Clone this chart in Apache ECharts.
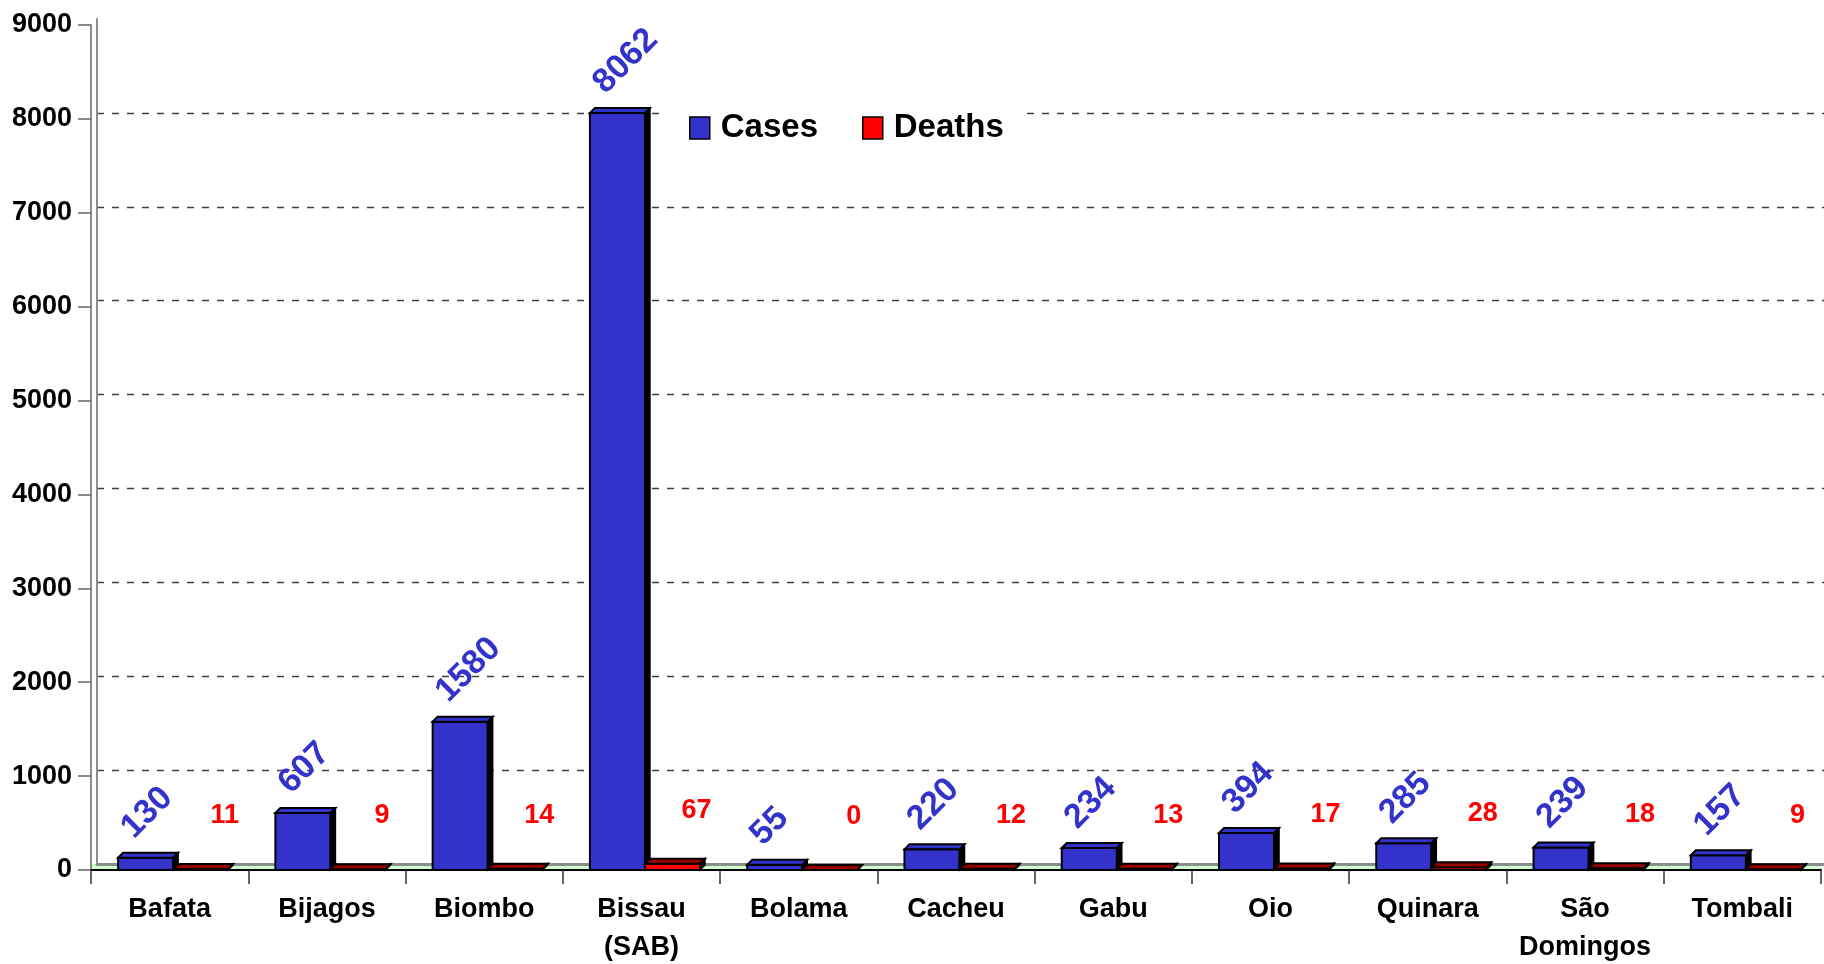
<!DOCTYPE html>
<html>
<head>
<meta charset="utf-8">
<script src="https://cdn.jsdelivr.net/npm/echarts@6/dist/echarts.min.js"></script>
<style>
html,body{margin:0;padding:0;background:#fff;}
#chart{width:1824px;height:964px;}
</style>
</head>
<body>
<div id="chart"></div>
<script>
const categories = ['Bafata', 'Bijagos', 'Biombo', 'Bissau\n(SAB)', 'Bolama', 'Cacheu', 'Gabu', 'Oio', 'Quinara', 'São\nDomingos', 'Tombali'];
const cases = [130, 607, 1580, 8062, 55, 220, 234, 394, 285, 239, 157];
const deaths = [11, 9, 14, 67, 0, 12, 13, 17, 28, 18, 9];
const seriesNames = ['Cases', 'Deaths'];
const yMin = 0, yMax = 9000, yStep = 1000;

const FONT = "'Liberation Sans', Arial, sans-serif";
const CASES_COLOR = '#3333CC';
const DEATHS_COLOR = '#FF0000';
const DEATHS_TOP = '#990000';

const chart = echarts.init(document.getElementById('chart'), null, {renderer: 'canvas'});

const DEPTH = 5;
const BAR_FRAC = 0.35;

function makeRender(k, fill, topFill, labelFn) {
  return function (params, api) {
    const ci = api.value(0);
    const v = api.value(1);
    const base = api.coord([ci, 0]);
    const top = api.coord([ci, v]);
    const band = api.size([1, 0])[0];
    const w = band * BAR_FRAC;
    const L = base[0] - w + 3.5 + k * w;
    const R = L + w;
    const yT = top[1];
    const yB = base[1];
    const d = DEPTH;
    const children = [];
    children.push({
      type: 'rect',
      shape: {x: L, y: yT, width: w, height: Math.max(yB - yT, 0.01)},
      style: {fill: fill, stroke: '#000', lineWidth: 2}
    });
    children.push({
      type: 'polygon',
      shape: {points: [[R, yB], [R + d, yB - d], [R + d, yT - d], [R, yT]]},
      style: {fill: '#000', stroke: '#000', lineWidth: 1.5}
    });
    children.push({
      type: 'polygon',
      shape: {points: [[L, yT], [L + d, yT - d], [R + d, yT - d], [R, yT]]},
      style: {fill: topFill, stroke: '#000', lineWidth: 2}
    });
    children.push(labelFn(L, R, yT, v));
    return {type: 'group', children: children};
  };
}

const casesLabel = (L, R, yT, v) => ({
  type: 'text',
  x: L + 9, y: yT - 25,
  rotation: Math.PI / 4,
  style: {text: String(v), fill: CASES_COLOR, fontFamily: FONT, fontSize: 34, fontWeight: 'bold', align: 'left', verticalAlign: 'middle'}
});
const deathsLabel = (L, R, yT, v) => ({
  type: 'text',
  x: (L + R) / 2 + 24, y: yT - 40,
  style: {text: String(v), fill: DEATHS_COLOR, fontFamily: FONT, fontSize: 27, fontWeight: 'bold', align: 'center', verticalAlign: 'bottom'}
});

const casesData = categories.map((c, i) => [i, cases[i]]);
const deathsData = categories.map((c, i) => [i, deaths[i]]);

chart.setOption({
  backgroundColor: '#fff',
  animation: false,
  textStyle: {fontFamily: FONT},
  legend: {
    data: seriesNames,
    left: 666,
    top: 102,
    orient: 'horizontal',
    backgroundColor: '#fff',
    padding: [8, 18, 8, 23],
    itemWidth: 20,
    itemHeight: 22,
    itemGap: 44,
    icon: 'rect',
    itemStyle: {borderColor: '#000', borderWidth: 1.5},
    textStyle: {fontFamily: FONT, fontSize: 33, fontWeight: 'bold', color: '#000', lineHeight: 36, padding: [0, 0, 0, 6]}
  },
  grid: [
    {left: 91, right: 3, top: 25, bottom: 94, outerBoundsMode: 'none', containLabel: false},
    {left: 97, right: 0, top: 19, bottom: 100, outerBoundsMode: 'none', containLabel: false},
    {left: 91, right: 3, top: 864, bottom: 95, outerBoundsMode: 'none', show: true, backgroundColor: '#CCFFCC', borderWidth: 0, containLabel: false}
  ],
  xAxis: [
    {
      type: 'category', gridIndex: 0, data: categories, z: 1,
      axisLine: {show: true, lineStyle: {color: '#000', width: 2}},
      axisTick: {show: true, length: 14, lineStyle: {color: '#333', width: 1.5}},
      axisLabel: {margin: 21, fontFamily: FONT, fontSize: 27, fontWeight: 'bold', color: '#000', lineHeight: 38, interval: 0},
      splitLine: {show: false}
    },
    {
      type: 'category', gridIndex: 1, position: 'top', data: categories, z: 1,
      axisLine: {show: true, lineStyle: {color: '#8c8c8c', width: 3}},
      axisTick: {show: false}, axisLabel: {show: false}, splitLine: {show: false}
    },
    {
      type: 'category', gridIndex: 1, position: 'bottom', data: categories, z: 0,
      axisLine: {show: true, lineStyle: {color: '#8c8c8c', width: 2}},
      axisTick: {show: false}, axisLabel: {show: false}, splitLine: {show: false}
    },
    {type: 'category', gridIndex: 2, data: categories, show: false}
  ],
  yAxis: [
    {
      type: 'value', gridIndex: 0, min: yMin, max: yMax, interval: yStep, z: 1,
      axisLine: {show: true, lineStyle: {color: '#666', width: 1.5}},
      axisTick: {show: true, length: 13, lineStyle: {color: '#666', width: 1.5}},
      axisLabel: {margin: 19, fontFamily: FONT, fontSize: 27, fontWeight: 'bold', color: '#000', formatter: (v) => String(v)},
      splitLine: {show: false}
    },
    {
      type: 'value', gridIndex: 1, min: yMin, max: yMax, interval: yStep, z: 0,
      axisLine: {show: true, lineStyle: {color: '#8c8c8c', width: 2}},
      axisTick: {show: false}, axisLabel: {show: false},
      splitLine: {show: true, showMinLine: false, showMaxLine: false, lineStyle: {color: '#404040', width: 1.3, type: [7, 8]}}
    },
    {type: 'value', gridIndex: 2, show: false}
  ],
  series: [
    {
      name: seriesNames[0], type: 'custom', xAxisIndex: 0, yAxisIndex: 0, z: 3,
      data: casesData, encode: {x: 0, y: 1},
      itemStyle: {color: CASES_COLOR},
      renderItem: makeRender(0, CASES_COLOR, CASES_COLOR, casesLabel)
    },
    {
      name: seriesNames[1], type: 'custom', xAxisIndex: 0, yAxisIndex: 0, z: 3,
      data: deathsData, encode: {x: 0, y: 1},
      itemStyle: {color: DEATHS_COLOR},
      renderItem: makeRender(1, DEATHS_COLOR, DEATHS_TOP, deathsLabel)
    }
  ]
});
</script>
</body>
</html>
